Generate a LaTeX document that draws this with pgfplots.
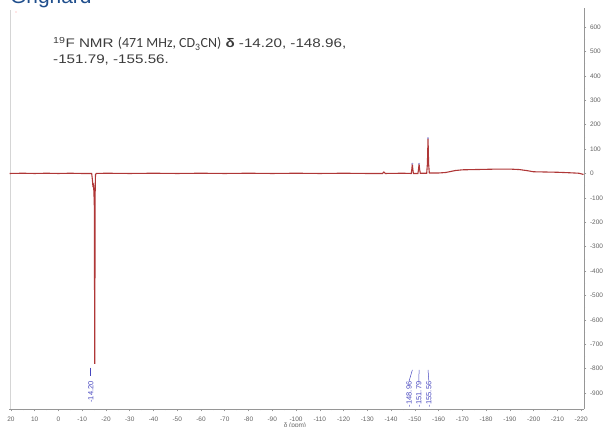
\documentclass[border=0pt]{standalone}
\usepackage{pgfplots}
\pgfplotsset{compat=1.18}
\usepackage{fontspec}
\setmainfont{Liberation Sans}
\newfontfamily\annot[FakeStretch=1.22]{Liberation Sans}
\newfontfamily\carlito{Carlito}
\definecolor{trace}{RGB}{175,55,55}
\definecolor{peakblue}{RGB}{70,70,190}
\definecolor{axgray}{RGB}{150,150,150}
\definecolor{txtgray}{RGB}{60,60,60}
\definecolor{titleblue}{RGB}{31,78,140}
\begin{document}
\begin{tikzpicture}
\node[anchor=base west, text=titleblue, inner sep=0pt, font=\fontsize{21}{24}\selectfont] at (1bp,405bp) {Grignard};
\draw[axgray!40, line width=0.5bp] (1bp,0bp) -- (1bp,399bp);
\fill[red!40] (7bp,397bp) circle (0.7bp);
\node[anchor=base west, text=txtgray, inner sep=0pt, font=\annot\fontsize{12.5}{15}\selectfont] at (44bp,361bp)
  {\textsuperscript{19}F NMR {\carlito\fontsize{14}{15}\selectfont(471 MHz, CD\textsubscript{3}CN)} \textbf{δ} -14.20, -148.96,};
\node[anchor=base west, text=txtgray, inner sep=0pt, font=\annot\fontsize{12.5}{15}\selectfont] at (44bp,345bp)
  {-151.79, -155.56.};
\begin{axis}[
  at={(0,0)}, anchor=south west,
  scale only axis, width=575bp, height=401bp,
  x dir=reverse,
  xmin=-221.2, xmax=20.8,
  ymin=-965, ymax=678,
  axis x line=bottom, axis y line=right,
  axis line style={-, axgray, line width=0.8bp},
  xtick={20,10,...,-220},
  ytick={-900,-800,...,600},
  minor x tick num=1, minor y tick num=1,
  tick style={axgray, line width=0.5bp},
  major tick length=2.5bp, minor tick length=1.5bp,
  tick align=outside,
  /pgf/number format/assume math mode=true,
  /pgf/number format/1000 sep={},
  tick label style={font=\fontsize{6.5}{7}\selectfont, text=txtgray!80},
  xticklabel style={yshift=-2bp},
  clip=false,
]
\addplot[trace, line width=1.1bp] coordinates {
(20.5,0) (15,1) (10,0) (5,1) (0,0) (-5,1) (-10,0) (-14.0,0) (-14.3,-25) (-14.5,-50) (-14.8,-45)
(-15.1,-120) (-15.3,-780) (-15.45,-90) (-15.6,-5) (-15.9,0) (-20,1) (-30,0) (-40,1) (-50,0)
(-60,1) (-70,0) (-80,1) (-90,0) (-100,1) (-110,0) (-120,1) (-130,0) (-136.4,0) (-137,6) (-137.6,0)
(-145,1) (-148.5,0) (-148.75,18) (-148.96,40) (-149.15,18) (-149.4,0)
(-151.3,0) (-151.58,18) (-151.79,40) (-152.0,18) (-152.3,1)
(-155.0,1) (-155.3,40) (-155.56,145) (-155.8,40) (-156.1,2)
(-160,2) (-163,4) (-165,8) (-167,12) (-170,15) (-175,16) (-180,17) (-185,18) (-190,18)
(-194,16) (-197,12) (-200,7) (-205,6) (-210,5) (-215,3) (-219,1) (-221,-4)
};
\addplot[only marks, mark=*, mark size=0.7bp, peakblue!50] coordinates {(-148.96,40) (-151.79,40) (-155.56,145)};
% peak labels
\addplot[peakblue, line width=0.5bp] coordinates {(-13.6,-795) (-13.6,-830)};
\node[rotate=90, text=peakblue, font=\fontsize{7.5}{8}\selectfont, inner sep=0pt] at (axis cs:-13.6,-895) {-14.20};
\addplot[peakblue, line width=0.5bp] coordinates {(-148.96,-805) (-147.6,-850)};
\addplot[peakblue, line width=0.5bp] coordinates {(-151.79,-805) (-151.7,-850)};
\addplot[peakblue, line width=0.5bp] coordinates {(-155.56,-805) (-155.9,-850)};
\node[rotate=90, text=peakblue, font=\fontsize{7.5}{8}\selectfont, inner sep=0pt] at (axis cs:-147.6,-905) {-148.96};
\node[rotate=90, text=peakblue, font=\fontsize{7.5}{8}\selectfont, inner sep=0pt] at (axis cs:-151.7,-905) {-151.79};
\node[rotate=90, text=peakblue, font=\fontsize{7.5}{8}\selectfont, inner sep=0pt] at (axis cs:-155.9,-905) {-155.56};
\end{axis}
\node[text=txtgray!80, font=\fontsize{6.5}{7}\selectfont, inner sep=0pt, anchor=north] at (286bp,-14bp) {δ (ppm)};
\pgfresetboundingbox
\path[use as bounding box] (-9bp,-18bp) rectangle (606bp,409bp);
\end{tikzpicture}
\end{document}
